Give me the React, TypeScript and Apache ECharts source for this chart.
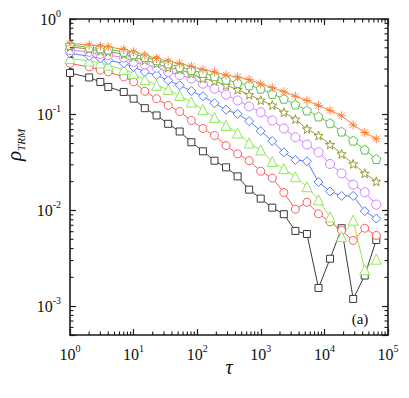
import React, { useEffect, useRef } from 'react';
import * as echarts from 'echarts';

// time points tau
const tau = [1, 2, 3, 4, 7, 10, 15, 23, 35, 53, 81, 123, 187, 284, 432, 656, 997, 1515, 2302, 3498, 5316, 8077, 12274, 18650, 28340, 43063, 65435];

// rho_TRM values for each curve (bottom to top)
const rhoSquares = [0.273, 0.245, 0.220, 0.195, 0.173, 0.147, 0.117, 0.0983, 0.0804, 0.0668, 0.0516, 0.0415, 0.0331, 0.0282, 0.0227, 0.0165, 0.0133, 0.0107, 0.00914, 0.00611, 0.00568, 0.00155, 0.00313, 0.00652, 0.00119, 0.00209, 0.00491];
const rhoRedCircles = [0.343, 0.316, 0.292, 0.280, 0.248, 0.220, 0.176, 0.147, 0.125, 0.108, 0.0871, 0.0718, 0.0607, 0.0476, 0.0390, 0.0331, 0.0257, 0.0218, 0.0154, 0.0103, 0.0122, 0.00921, 0.00759, 0.00618, 0.00486, 0.00652, 0.00548];
const rhoTriangles = [0.387, 0.365, 0.348, 0.329, 0.297, 0.269, 0.233, 0.203, 0.183, 0.159, 0.136, 0.113, 0.0937, 0.0772, 0.0644, 0.0506, 0.0429, 0.0324, 0.0273, 0.0225, 0.0177, 0.0129, 0.00857, 0.00535, 0.00791, 0.00240, 0.00310];
const rhoDiamonds = [0.437, 0.409, 0.387, 0.371, 0.343, 0.316, 0.280, 0.259, 0.229, 0.203, 0.177, 0.156, 0.132, 0.113, 0.102, 0.0857, 0.0676, 0.0531, 0.0405, 0.0337, 0.0326, 0.0198, 0.0158, 0.0142, 0.0142, 0.00983, 0.00822];
const rhoVioletCircles = [0.473, 0.454, 0.429, 0.419, 0.396, 0.356, 0.335, 0.311, 0.280, 0.259, 0.239, 0.211, 0.187, 0.162, 0.141, 0.122, 0.106, 0.0871, 0.0718, 0.0582, 0.0488, 0.0405, 0.0306, 0.0244, 0.0186, 0.0155, 0.0115];
const rhoStars = [0.512, 0.484, 0.465, 0.454, 0.429, 0.402, 0.371, 0.343, 0.311, 0.297, 0.269, 0.239, 0.225, 0.203, 0.183, 0.162, 0.142, 0.126, 0.106, 0.0899, 0.0710, 0.0607, 0.0488, 0.0390, 0.0306, 0.0244, 0.0201];
const rhoPentagons = [0.534, 0.505, 0.493, 0.481, 0.454, 0.429, 0.402, 0.371, 0.343, 0.314, 0.292, 0.273, 0.252, 0.233, 0.215, 0.203, 0.187, 0.165, 0.147, 0.128, 0.111, 0.0960, 0.0816, 0.0668, 0.0537, 0.0432, 0.0345];
const rhoAsterisks = [0.556, 0.534, 0.521, 0.512, 0.481, 0.454, 0.419, 0.387, 0.363, 0.343, 0.321, 0.297, 0.280, 0.259, 0.248, 0.233, 0.210, 0.192, 0.174, 0.156, 0.141, 0.125, 0.111, 0.0976, 0.0785, 0.0652, 0.0560];

// axis ranges / tick values
const xMin = 1;
const xMax = 100000;
const yMin = 0.0005;
const yMax = 1;
const xMinorTicks: number[] = [];
for (let e = 0; e < 5; e++) for (let m = 2; m <= 9; m++) xMinorTicks.push(m * Math.pow(10, e));
const yMinorTicks: number[] = [];
for (let m = 5; m <= 9; m++) yMinorTicks.push(m * 1e-4);
for (let e = -3; e < 0; e++) for (let m = 2; m <= 9; m++) yMinorTicks.push(m * Math.pow(10, e));

const SERIF = "'Liberation Serif', 'Times New Roman', serif";
const AX = '#1a1a1a';

const STAR = 'path://M0,-10L2.35,-3.24L9.51,-3.09L3.8,1.24L5.88,8.09L0,4L-5.88,8.09L-3.8,1.24L-9.51,-3.09L-2.35,-3.24Z';
const PENTA = 'path://M0,-10L9.51,-3.09L5.88,8.09L-5.88,8.09L-9.51,-3.09Z';
const ASTER = 'path://M0,-10L0,10M-10,0L10,0M-7.07,-7.07L7.07,7.07M-7.07,7.07L7.07,-7.07';

const curves = [
  { data: rhoSquares, color: '#3a3a3a', symbol: 'rect', size: 7, bw: 1 },
  { data: rhoRedCircles, color: '#ff5a5a', symbol: 'circle', size: 8, bw: 1 },
  { data: rhoTriangles, color: '#8fe85a', symbol: 'triangle', size: 10, bw: 1 },
  { data: rhoDiamonds, color: '#5a7dff', symbol: 'diamond', size: 9, bw: 1 },
  { data: rhoVioletCircles, color: '#cc80ff', symbol: 'circle', size: 9, bw: 1 },
  { data: rhoStars, color: '#999933', symbol: STAR, size: 9, bw: 1 },
  { data: rhoPentagons, color: '#5cc04c', symbol: PENTA, size: 9, bw: 1 },
  { data: rhoAsterisks, color: '#ff7a30', symbol: ASTER, size: 9, bw: 0.9 },
];

const fmtPow = (v: number) => {
  const e = Math.log10(v);
  const r = Math.round(e);
  if (Math.abs(e - r) > 1e-6) return '';
  return `{b|10}{s|${r}}`;
};

const labelRich = {
  b: { fontSize: 16, lineHeight: 22, fontFamily: SERIF, color: '#111' },
  s: { fontSize: 10, lineHeight: 10, verticalAlign: 'top', fontFamily: SERIF, color: '#111' },
};

export default function App() {
  const ref = useRef<HTMLDivElement>(null);
  useEffect(() => {
    const chart = echarts.init(ref.current!, null, { renderer: 'svg' });
    const axisLine = { show: true, onZero: false, lineStyle: { color: AX, width: 1.6 } };
    const axisTick = { show: true, inside: true, length: 6, lineStyle: { color: AX, width: 1.2 } };
    const option: any = {
      animation: false,
      backgroundColor: '#fff',
      grid: { left: 70, top: 19, width: 318, height: 316 },
      xAxis: [
        {
          type: 'log', logBase: 10, min: xMin, max: xMax, position: 'bottom',
          axisLine, axisTick, splitLine: { show: false },
          axisLabel: { margin: 8, formatter: fmtPow, rich: labelRich, fontFamily: SERIF },
        },
        {
          type: 'log', logBase: 10, min: xMin, max: xMax, position: 'top',
          axisLine, axisTick, splitLine: { show: false }, axisLabel: { show: false },
        },
      ],
      yAxis: [
        {
          type: 'log', logBase: 10, min: yMin, max: yMax, position: 'left',
          axisLine, axisTick, splitLine: { show: false },
          axisLabel: { margin: 9, formatter: fmtPow, rich: labelRich, fontFamily: SERIF },
        },
        {
          type: 'log', logBase: 10, min: yMin, max: yMax, position: 'right',
          axisLine, axisTick, splitLine: { show: false }, axisLabel: { show: false },
        },
      ],
      series: [
        ...curves.map((c) => ({
          type: 'line',
          xAxisIndex: 0,
          yAxisIndex: 0,
          data: tau.map((t, i) => [t, c.data[i]]),
          symbol: c.symbol,
          symbolSize: c.size,
          showSymbol: true,
          itemStyle: { color: '#fff', borderColor: c.color, borderWidth: c.bw },
          lineStyle: { color: c.color, width: 1 },
          emphasis: { disabled: true },
        })),
        {
          type: 'custom',
          xAxisIndex: 0,
          yAxisIndex: 0,
          silent: true,
          clip: false,
          z: 10,
          data: xMinorTicks.map((v) => [v, 1]),
          renderItem: (params: any, api: any) => {
            const p = api.coord([api.value(0), 1]);
            const cs = params.coordSys;
            const top = cs.y;
            const bottom = cs.y + cs.height;
            const style = { stroke: AX, lineWidth: 1.1 };
            return {
              type: 'group',
              children: [
                { type: 'line', shape: { x1: p[0], y1: bottom, x2: p[0], y2: bottom - 3.5 }, style },
                { type: 'line', shape: { x1: p[0], y1: top, x2: p[0], y2: top + 3.5 }, style },
              ],
            };
          },
        },
        {
          type: 'custom',
          xAxisIndex: 0,
          yAxisIndex: 0,
          silent: true,
          clip: false,
          z: 10,
          data: yMinorTicks.map((v) => [1, v]),
          renderItem: (params: any, api: any) => {
            const p = api.coord([1, api.value(1)]);
            const cs = params.coordSys;
            const left = cs.x;
            const right = cs.x + cs.width;
            const style = { stroke: AX, lineWidth: 1.1 };
            return {
              type: 'group',
              children: [
                { type: 'line', shape: { x1: left, y1: p[1], x2: left + 3.5, y2: p[1] }, style },
                { type: 'line', shape: { x1: right, y1: p[1], x2: right - 3.5, y2: p[1] }, style },
              ],
            };
          },
        },
      ],
      graphic: [
        {
          type: 'text',
          x: 229,
          y: 367,
          style: { text: 'τ', fontSize: 20, fontStyle: 'italic', fontFamily: SERIF, fill: '#111', align: 'center', verticalAlign: 'middle' },
        },
        {
          type: 'text',
          x: 14,
          y: 145,
          rotation: Math.PI / 2,
          style: {
            text: '{r|ρ}{s|TRM}',
            align: 'center',
            verticalAlign: 'middle',
            fill: '#111',
            fontFamily: SERIF,
            rich: {
              r: { fontSize: 21, lineHeight: 24, fontStyle: 'italic', fontFamily: SERIF, fill: '#111' },
              s: { fontSize: 11, lineHeight: 12, fontStyle: 'italic', fontFamily: SERIF, verticalAlign: 'bottom', fill: '#111' },
            },
          },
        },
        {
          type: 'text',
          x: 360,
          y: 319,
          style: { text: '(a)', fontSize: 15, fontFamily: SERIF, fill: '#111', align: 'center', verticalAlign: 'middle' },
        },
      ],
    };
    chart.setOption(option);
    return () => chart.dispose();
  }, []);
  return (
    <div
      ref={ref}
      style={{ position: 'fixed', left: 0, top: 0, width: 409, height: 398, background: '#fff' }}
    />
  );
}
